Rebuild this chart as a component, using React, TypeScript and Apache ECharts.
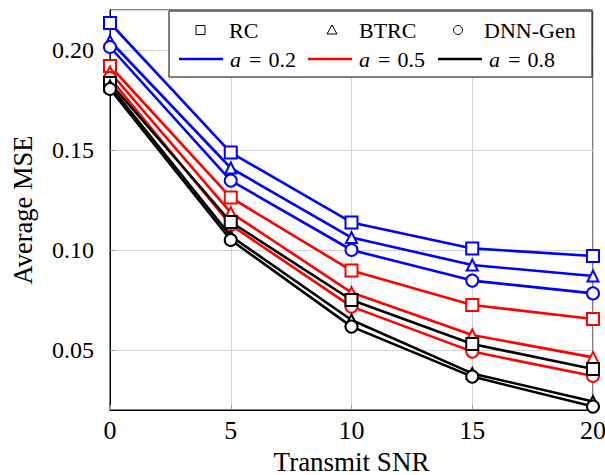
import React, { useEffect, useRef } from "react";
import * as echarts from "echarts";

const snr = [0, 5, 10, 15, 20];
const rcA2 = [0.2135, 0.1487, 0.1138, 0.1008, 0.097];
const btrcA2 = [0.2045, 0.141, 0.1062, 0.0925, 0.087];
const dnnA2 = [0.2015, 0.1347, 0.1, 0.0847, 0.0783];
const rcA5 = [0.192, 0.1262, 0.0897, 0.0725, 0.0655];
const btrcA5 = [0.189, 0.1187, 0.0787, 0.0575, 0.0463];
const dnnA5 = [0.186, 0.1125, 0.0717, 0.0492, 0.037];
const rcA8 = [0.1835, 0.114, 0.075, 0.053, 0.0405];
const btrcA8 = [0.182, 0.107, 0.065, 0.0383, 0.0242];
const dnnA8 = [0.1805, 0.105, 0.0617, 0.0367, 0.0217];

const methodNames = ["RC", "BTRC", "DNN-Gen"];
const aLabels = ["0.2", "0.5", "0.8"];
const colors = ["#0000ff", "#ff0000", "#000000"];
const symbols = ["rect", "triangle", "circle"];
const seriesValues = [
  [rcA2, btrcA2, dnnA2],
  [rcA5, btrcA5, dnnA5],
  [rcA8, btrcA8, dnnA8],
];

const FONT = "Liberation Serif";

export default function App() {
  const ref = useRef<HTMLDivElement>(null);
  useEffect(() => {
    if (!ref.current) return;
    const chart = echarts.init(ref.current, null, { renderer: "svg" });
    const series: any[] = [];
    seriesValues.forEach((group, gi) => {
      group.forEach((vals, mi) => {
        series.push({
          type: "line",
          name: `${methodNames[mi]} a=${aLabels[gi]}`,
          data: snr.map((x, i) => [x, vals[i]]),
          symbol: symbols[mi],
          symbolSize: mi === 1 ? 11 : 12,
          showAllSymbol: true,
          lineStyle: { color: colors[gi], width: 2.6 },
          itemStyle: { color: "#ffffff", borderColor: colors[gi], borderWidth: 2 },
          z: 2 + gi,
        });
      });
    });

    const legendX = 169;
    const legendY = 11;
    const row1 = 30;
    const row2 = 59;
    const textStyle = { fontFamily: FONT, fontSize: 22, fill: "#000" };
    const graphic: any[] = [
      {
        type: "rect",
        shape: { x: legendX, y: legendY, width: 423, height: 66 },
        style: { fill: "#fff", stroke: "#000", lineWidth: 1 },
        z: 100,
      },
      {
        type: "rect",
        shape: { x: 196, y: row1 - 4.5, width: 9, height: 9 },
        style: { fill: "none", stroke: "#000", lineWidth: 1 },
        z: 101,
      },
      {
        type: "polygon",
        shape: { points: [[332, row1 - 5], [327, row1 + 4], [337, row1 + 4]] },
        style: { fill: "none", stroke: "#000", lineWidth: 1 },
        z: 101,
      },
      {
        type: "circle",
        shape: { cx: 458, cy: row1, r: 4.5 },
        style: { fill: "none", stroke: "#000", lineWidth: 1 },
        z: 101,
      },
      { type: "text", x: 229, y: row1, style: { ...textStyle, text: methodNames[0], verticalAlign: "middle" }, z: 101 },
      { type: "text", x: 359, y: row1, style: { ...textStyle, text: methodNames[1], verticalAlign: "middle" }, z: 101 },
      { type: "text", x: 484, y: row1, style: { ...textStyle, text: methodNames[2], verticalAlign: "middle" }, z: 101 },
    ];
    const lineStarts = [179, 308, 438];
    lineStarts.forEach((lx, i) => {
      graphic.push({
        type: "line",
        shape: { x1: lx, y1: row2, x2: lx + 44, y2: row2 },
        style: { stroke: colors[i], lineWidth: 2.6 },
        z: 101,
      });
      graphic.push({
        type: "text",
        x: lx + 51,
        y: row2,
        style: {
          text: `{i|a}{e|=}${aLabels[i]}`,
          fontFamily: FONT,
          fontSize: 22,
          fill: "#000",
          verticalAlign: "middle",
          rich: {
            i: { fontStyle: "italic", fontFamily: FONT, fontSize: 22 },
            e: { fontFamily: FONT, fontSize: 22, padding: [0, 7, 0, 8] },
          },
        },
        z: 101,
      });
    });

    chart.setOption({
      animation: false,
      backgroundColor: "#ffffff",
      grid: {
        left: 110,
        right: 12,
        top: 10,
        bottom: 65,
        show: true,
        borderColor: "#000",
        borderWidth: 1,
        containLabel: false,
        outerBoundsMode: "none",
      },
      xAxis: {
        type: "value",
        min: 0,
        max: 20,
        interval: 5,
        name: "Transmit SNR",
        nameLocation: "middle",
        nameGap: 38,
        nameTextStyle: { fontFamily: FONT, fontSize: 27, lineHeight: 27, color: "#000" },
        axisLine: { show: true, lineStyle: { color: "#000", width: 1 } },
        axisTick: { show: true, inside: true, length: 5, lineStyle: { color: "#999" } },
        axisLabel: { fontFamily: FONT, fontSize: 26, color: "#000", margin: 7 },
        splitLine: { show: true, lineStyle: { color: "#d3d3d3", width: 1 } },
      },
      yAxis: {
        type: "value",
        min: 0.02,
        max: 0.22,
        name: "Average MSE",
        nameLocation: "middle",
        nameGap: 74,
        nameTextStyle: { fontFamily: FONT, fontSize: 26.5, color: "#000" },
        axisLine: { show: true, lineStyle: { color: "#000", width: 1 } },
        axisTick: { show: true, inside: true, length: 5, lineStyle: { color: "#999" } },
        axisLabel: {
          fontFamily: FONT,
          fontSize: 24,
          color: "#000",
          margin: 16,
          showMinLabel: false,
          showMaxLabel: false,
          formatter: (v: number) => v.toFixed(2),
        },
        splitLine: { show: true, lineStyle: { color: "#d3d3d3", width: 1 } },
      },
      series,
      graphic,
    });
    return () => chart.dispose();
  }, []);
  return (
    <div
      ref={ref}
      style={{ position: "absolute", left: 0, top: 0, width: 605, height: 475 }}
    />
  );
}
